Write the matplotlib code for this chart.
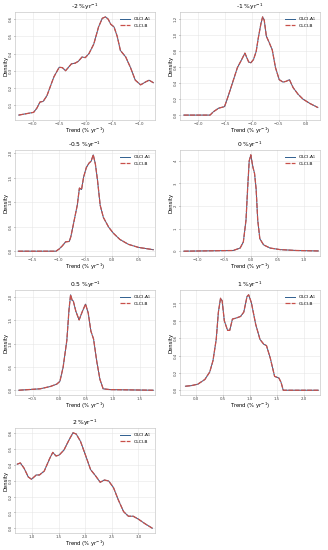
import matplotlib
matplotlib.use("Agg")
import matplotlib.pyplot as plt
import numpy as np

# density curves (trend %/yr, density)
titles = ["-2 %yr$^{-1}$", "-1 %yr$^{-1}$", "-0.5 %yr$^{-1}$", "0 %yr$^{-1}$",
          "0.5 %yr$^{-1}$", "1 %yr$^{-1}$", "2 %yr$^{-1}$"]

x_m2 = [-3.26, -2.98, -2.92, -2.86, -2.80, -2.73, -2.60, -2.50, -2.44, -2.38, -2.27, -2.20, -2.14,
        -2.07, -2.01, -1.94, -1.85, -1.76, -1.69, -1.63, -1.58, -1.53, -1.47, -1.41, -1.35, -1.25,
        -1.16, -1.07, -0.97, -0.87, -0.81, -0.73]
y_m2 = [0.042, 0.058, 0.082, 0.118, 0.122, 0.155, 0.264, 0.320, 0.318, 0.300, 0.340, 0.344, 0.355,
        0.380, 0.376, 0.400, 0.455, 0.555, 0.605, 0.613, 0.600, 0.570, 0.555, 0.500, 0.418, 0.380,
        0.318, 0.245, 0.218, 0.236, 0.245, 0.230]

x_m1 = [-2.27, -1.78, -1.72, -1.62, -1.51, -1.46, -1.41, -1.34, -1.27, -1.19, -1.13, -1.06, -1.02,
        -0.97, -0.92, -0.88, -0.83, -0.80, -0.77, -0.73, -0.68, -0.62, -0.56, -0.49, -0.42, -0.36,
        -0.30, -0.23, -0.14, -0.05, 0.08, 0.23]
y_m1 = [0.0, 0.0, 0.04, 0.086, 0.105, 0.20, 0.30, 0.445, 0.59, 0.69, 0.77, 0.66, 0.65,
        0.69, 0.79, 0.96, 1.14, 1.22, 1.18, 0.98, 0.906, 0.81, 0.59, 0.44, 0.41, 0.42,
        0.44, 0.34, 0.26, 0.20, 0.145, 0.094]

x_m05 = [-1.76, -1.05, -0.99, -0.93, -0.87, -0.80, -0.77, -0.71, -0.65, -0.61, -0.57, -0.53, -0.48,
         -0.43, -0.39, -0.35, -0.31, -0.27, -0.22, -0.16, -0.06, 0.03, 0.15, 0.31, 0.50, 0.78]
y_m05 = [0.0, 0.0, 0.045, 0.11, 0.19, 0.20, 0.30, 0.62, 0.94, 1.29, 1.26, 1.52, 1.71,
         1.80, 1.84, 1.97, 1.78, 1.45, 0.94, 0.69, 0.49, 0.365, 0.24, 0.14, 0.077, 0.03]

x_0 = [-1.26, -0.33, -0.20, -0.14, -0.09, -0.06, -0.03, 0.0, 0.04, 0.07, 0.10, 0.13, 0.17, 0.24,
       0.36, 0.55, 0.86, 1.27]
y_0 = [0.0, 0.03, 0.14, 0.41, 1.38, 2.76, 4.0, 4.27, 3.72, 3.45, 2.76, 1.38, 0.55, 0.28,
       0.14, 0.07, 0.03, 0.01]

x_05 = [-0.76, -0.36, -0.17, -0.05, 0.01, 0.07, 0.14, 0.18, 0.21, 0.24, 0.26, 0.31, 0.37, 0.43,
        0.49, 0.54, 0.59, 0.64, 0.70, 0.76, 0.82, 0.95, 1.76]
y_05 = [0.0, 0.03, 0.08, 0.13, 0.19, 0.49, 1.07, 1.72, 2.05, 1.93, 1.92, 1.69, 1.51, 1.69,
        1.85, 1.66, 1.27, 1.10, 0.62, 0.23, 0.03, 0.013, 0.0]

x_1 = [-0.19, -0.08, 0.04, 0.17, 0.26, 0.32, 0.38, 0.42, 0.46, 0.49, 0.53, 0.59, 0.63, 0.68,
       0.74, 0.83, 0.89, 0.95, 0.98, 1.03, 1.11, 1.19, 1.26, 1.31, 1.38, 1.46, 1.54, 1.58,
       1.62, 2.27]
y_1 = [0.046, 0.053, 0.07, 0.124, 0.21, 0.34, 0.585, 0.90, 1.06, 1.03, 0.80, 0.69, 0.69, 0.82,
       0.83, 0.85, 0.90, 1.08, 1.10, 1.01, 0.76, 0.585, 0.53, 0.514, 0.37, 0.16, 0.14, 0.09,
       0.0, 0.0]

x_2 = [0.72, 0.78, 0.85, 0.93, 0.99, 1.08, 1.14, 1.23, 1.33, 1.39, 1.45, 1.51, 1.60, 1.70,
       1.77, 1.83, 1.91, 2.01, 2.10, 2.19, 2.28, 2.36, 2.44, 2.53, 2.62, 2.72, 2.81, 2.90,
       3.00, 3.12, 3.26]
y_2 = [0.405, 0.413, 0.38, 0.324, 0.31, 0.337, 0.337, 0.362, 0.44, 0.48, 0.457, 0.463, 0.495, 0.562,
       0.604, 0.596, 0.55, 0.457, 0.371, 0.333, 0.291, 0.305, 0.299, 0.257, 0.18, 0.105, 0.076, 0.076,
       0.057, 0.029, 0.0]

curves = [(x_m2, y_m2), (x_m1, y_m1), (x_m05, y_m05), (x_0, y_0),
          (x_05, y_05), (x_1, y_1), (x_2, y_2)]
xlims = [(-3.33, -0.70), (-2.34, 0.27), (-1.82, 0.81), (-1.33, 1.30),
         (-0.83, 1.79), (-0.29, 2.30), (0.68, 3.31)]
xticks = [[-3.0, -2.5, -2.0, -1.5, -1.0], [-2.0, -1.5, -1.0, -0.5, 0.0],
          [-1.5, -1.0, -0.5, 0.0, 0.5], [-1.0, -0.5, 0.0, 0.5, 1.0],
          [-0.5, 0.0, 0.5, 1.0, 1.5], [0.0, 0.5, 1.0, 1.5, 2.0],
          [1.0, 1.5, 2.0, 2.5, 3.0]]
yticks = [[0.1, 0.2, 0.3, 0.4, 0.5, 0.6], [0.0, 0.2, 0.4, 0.6, 0.8, 1.0, 1.2],
          [0.0, 0.5, 1.0, 1.5, 2.0], [0, 1, 2, 3, 4],
          [0.0, 0.5, 1.0, 1.5, 2.0], [0.0, 0.2, 0.4, 0.6, 0.8, 1.0],
          [0.0, 0.1, 0.2, 0.3, 0.4, 0.5, 0.6]]

W, H = 328, 550
fig = plt.figure(figsize=(W / 100, H / 100), dpi=100)

# axes boxes in pixels: left, top, right, bottom
cols = [(15, 155), (180, 320)]
rows = [(12, 120), (150, 256), (290, 395), (428, 533)]

for i, (xs, ys) in enumerate(curves):
    c = cols[i % 2]
    r = rows[i // 2]
    ax = fig.add_axes([c[0] / W, 1 - r[1] / H, (c[1] - c[0]) / W, (r[1] - r[0]) / H])
    xs = np.array(xs)
    ys = np.array(ys)
    ax.plot(xs, ys, color="#2f5f8f", lw=0.7, label="OLCI-A$_1$")
    ax.plot(xs, ys, color="#c8504a", lw=0.9, ls=(0, (4, 1)), label="OLCI-B")
    ax.set_xlim(*xlims[i])
    ax.set_xticks(xticks[i])
    ax.set_yticks(yticks[i])
    ax.set_yticklabels([f"{v:.1f}" if isinstance(v, float) else str(v) for v in yticks[i]],
                       rotation=90, va="center")
    ax.tick_params(labelsize=2.8, length=1, width=0.4, pad=0.5, colors="#444444")
    ax.grid(True, color="#e6e6e6", lw=0.4)
    for s in ax.spines.values():
        s.set_color("#bbbbbb")
        s.set_linewidth(0.4)
    ax.set_title(titles[i], fontsize=4.3, pad=1.5)
    ax.set_xlabel("Trend (% yr$^{-1}$)", fontsize=3.8, labelpad=0)
    ax.set_ylabel("Density", fontsize=3.8, labelpad=0.5)
    ax.legend(loc="upper right", fontsize=3.2, frameon=False, handlelength=2.2,
              borderaxespad=0.3, labelspacing=0.2)

fig.savefig("out.png", dpi=100)
